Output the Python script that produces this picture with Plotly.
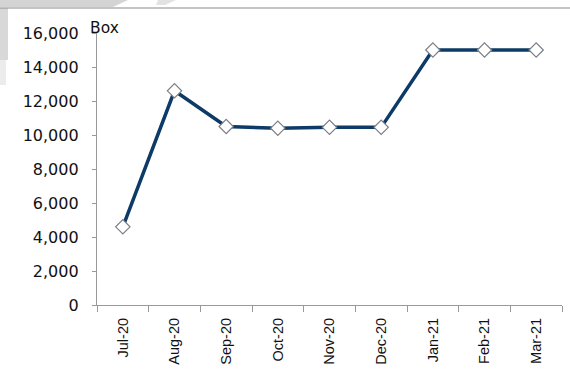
import plotly.graph_objects as go

# Monthly volume (boxes)
months = ["Jul-20", "Aug-20", "Sep-20", "Oct-20", "Nov-20", "Dec-20",
          "Jan-21", "Feb-21", "Mar-21"]
boxes = [4600, 12600, 10500, 10400, 10450, 10450, 15000, 15000, 15000]
y_ticks = [0, 2000, 4000, 6000, 8000, 10000, 12000, 14000, 16000]
y_tick_text = [f"{v:,}" for v in y_ticks]

W, H = 570, 374
M_L, M_R, M_T, M_B = 97, 8, 33, 69
PLOT_H = H - M_T - M_B


def py(pix):
    """Pixel row (from top) to paper y."""
    return 1 - (pix - M_T) / PLOT_H


def px(pix):
    """Pixel column to paper x."""
    return (pix - M_L) / (W - M_L - M_R)


fig = go.Figure()
fig.add_trace(go.Scatter(
    x=months, y=boxes, mode="lines+markers",
    line=dict(color="#0d3a66", width=3.5),
    marker=dict(symbol="diamond", size=11, color="white",
                line=dict(color="#7a7f86", width=1.2)),
    hoverinfo="x+y", showlegend=False,
))

shapes = [
    # faint page edge in the upper-left corner
    dict(type="path", xref="paper", yref="paper",
         path=f"M {px(0)} {py(0)} L {px(128)} {py(0)} L {px(113)} {py(7)} L {px(0)} {py(7)} Z",
         fillcolor="#d4d4d4", line=dict(width=0), layer="below"),
    dict(type="path", xref="paper", yref="paper",
         path=f"M {px(158)} {py(0)} L {px(176)} {py(0)} L {px(165)} {py(5)} L {px(156)} {py(5)} Z",
         fillcolor="#e2e2e2", line=dict(width=0), layer="below"),
    dict(type="rect", xref="paper", yref="paper",
         x0=px(0), x1=px(8), y0=py(60), y1=py(8),
         fillcolor="#d8d8d8", line=dict(width=0), layer="below"),
    dict(type="rect", xref="paper", yref="paper",
         x0=px(0), x1=px(6), y0=py(85), y1=py(60),
         fillcolor="#ececec", line=dict(width=0), layer="below"),
    # thin rule across the top
    dict(type="line", xref="paper", yref="paper",
         x0=px(0), x1=px(W), y0=py(8), y1=py(8),
         line=dict(color="#8a8a8a", width=1.2)),
]

fig.update_layout(
    width=W, height=H,
    margin=dict(l=M_L, r=M_R, t=M_T, b=M_B, pad=0),
    paper_bgcolor="white", plot_bgcolor="white",
    shapes=shapes,
    annotations=[dict(text="Box", xref="paper", yref="paper",
                      x=px(88), y=py(17), xanchor="left", yanchor="top",
                      showarrow=False,
                      font=dict(family="DejaVu Sans", size=15.5, color="#111"))],
    xaxis=dict(
        type="category", categoryorder="array", categoryarray=months,
        range=[-0.5, len(months) - 0.5],
        showline=True, linecolor="#999", linewidth=1.3,
        ticks="outside", tickson="boundaries", ticklen=6, tickcolor="#999",
        ticklabelstandoff=6,
        tickangle=-90, showgrid=False, zeroline=False,
        tickfont=dict(family="Liberation Sans, Arial", size=14.5, color="#111"),
    ),
    yaxis=dict(
        range=[0, 16000], tickvals=y_ticks, ticktext=y_tick_text,
        showline=True, linecolor="#999", linewidth=1.3,
        ticks="outside", ticklen=4, tickcolor="#999",
        ticklabelstandoff=10,
        showgrid=False, zeroline=False,
        tickfont=dict(family="DejaVu Sans", size=16, color="#111"),
    ),
)

fig.write_html("out.html")
